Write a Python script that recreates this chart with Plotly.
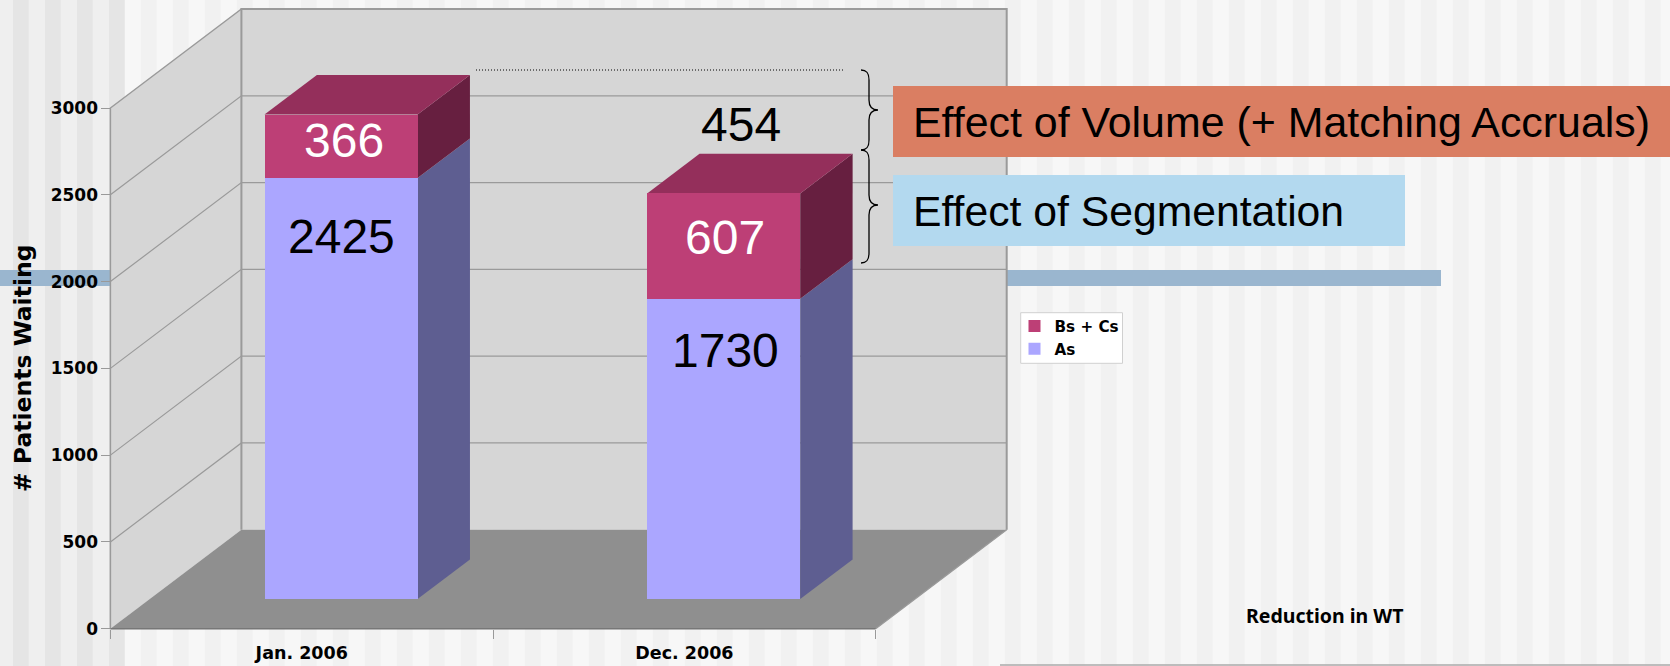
import plotly.graph_objects as go

# ---- data ----
categories = ["Jan. 2006", "Dec. 2006"]
as_values = [2425, 1730]
bc_values = [366, 607]
y_ticks = [0, 500, 1000, 1500, 2000, 2500, 3000]

# ---- canvas and 3-D model ----
W, H = 1670, 666
AX_LEFT, AX_BOTTOM = 110.4, 628.7      # pixel position of the front axis origin
CAT_PX = 382.65                        # pixels per category
VAL_PX = 86.78 / 500                   # pixels per unit of value
DEPTH_X_PX, DEPTH_Y_PX = 131.0, 99.0   # pixels per unit of depth
BAR_WIDTH = 0.4
BAR_D0, BAR_D1 = 0.3, 0.7
Y_TOP = 3000

dx_unit = DEPTH_X_PX / CAT_PX
dy_unit = DEPTH_Y_PX / VAL_PX
x_range = [-AX_LEFT / CAT_PX - 0.5, (W - AX_LEFT) / CAT_PX - 0.5]
y_range = [(AX_BOTTOM - H) / VAL_PX, AX_BOTTOM / VAL_PX]


def proj(c, v, d):
    return c + d * dx_unit, v + d * dy_unit


def px(x, y):
    return x / W, 1 - y / H


def poly(points, fill=None, line=None, lw=0, close=True):
    pts = [proj(*p) for p in points]
    if close:
        pts.append(pts[0])
    return go.Scatter(
        x=[p[0] for p in pts], y=[p[1] for p in pts], xaxis="x", yaxis="y",
        mode="lines", fill="toself" if fill else None, fillcolor=fill,
        line=dict(color=line or "rgba(0,0,0,0)", width=lw),
        hoverinfo="skip", showlegend=False,
    )


L, R = -0.5, 1.5
WALL, FLOOR, EDGE = "#d6d6d6", "#8f8f8f", "#9a9a9a"
traces = [
    poly([(L, 0, 1), (R, 0, 1), (R, Y_TOP, 1), (L, Y_TOP, 1)], fill=WALL),
    poly([(L, 0, 0), (L, 0, 1), (L, Y_TOP, 1), (L, Y_TOP, 0)], fill=WALL),
    poly([(L, 0, 0), (R, 0, 0), (R, 0, 1), (L, 0, 1)], fill=FLOOR),
]
for v in y_ticks[1:-1]:
    traces.append(poly([(L, v, 0), (L, v, 1), (R, v, 1)], line=EDGE, lw=1.2, close=False))
traces += [
    poly([(L, 0, 1), (L, Y_TOP, 1), (R, Y_TOP, 1), (R, 0, 1)], line=EDGE, lw=2, close=False),
    poly([(L, 0, 0), (L, Y_TOP, 0), (L, Y_TOP, 1)], line=EDGE, lw=1.5, close=False),
    poly([(R, 0, 0), (R, 0, 1)], line=EDGE, lw=1.2, close=False),
    poly([(L, 0, 0), (R, 0, 0)], line="#777777", lw=1.5, close=False),
]

AS_SIDE, BC_SIDE, BC_TOP = "#5e5e91", "#671f40", "#942f5b"
for i in range(len(categories)):
    c1 = i - BAR_WIDTH / 2
    c2 = i + BAR_WIDTH / 2
    a = as_values[i]
    t = a + bc_values[i]
    traces += [
        poly([(c2, 0, BAR_D0), (c2, 0, BAR_D1), (c2, a, BAR_D1), (c2, a, BAR_D0)], fill=AS_SIDE),
        poly([(c2, a, BAR_D0), (c2, a, BAR_D1), (c2, t, BAR_D1), (c2, t, BAR_D0)], fill=BC_SIDE),
        poly([(c1, t, BAR_D0), (c2, t, BAR_D0), (c2, t, BAR_D1), (c1, t, BAR_D1)], fill=BC_TOP),
    ]

# invisible carrier of the visible category axis
traces.append(go.Scatter(x=categories, y=[None, None], xaxis="x2", yaxis="y",
                         mode="markers", showlegend=False, hoverinfo="skip"))
# front faces: the true stacked values
traces.append(go.Bar(x=categories, y=as_values, name="As", width=BAR_WIDTH,
                     marker=dict(color="#aba6ff", line=dict(width=0)), xaxis="x3", yaxis="y2"))
traces.append(go.Bar(x=categories, y=bc_values, name="Bs + Cs", width=BAR_WIDTH,
                     marker=dict(color="#bd3f76", line=dict(width=0)), xaxis="x3", yaxis="y2"))

fig = go.Figure(traces)

# ---- background shapes ----
shapes = []
STRIPE = 16
START = 12.9
stripe_x = START - STRIPE
k = -1
while stripe_x < W:
    left_zone = stripe_x < 120
    dark = k % 2 == 0
    col = ("#e5e5e5" if dark else "#efefef") if left_zone else ("#f1f1f1" if dark else "#f7f7f7")
    x0, y0 = px(max(stripe_x, 0), 0)
    x1, y1 = px(min(stripe_x + STRIPE, W), H)
    shapes.append(dict(type="rect", xref="paper", yref="paper", x0=x0, x1=x1, y0=y0, y1=y1,
                       fillcolor=col, line_width=0, layer="below"))
    stripe_x += STRIPE
    k += 1


def rect(x0, y0, x1, y1, color, layer="above", line=None):
    a, b = px(x0, y0)
    c, d = px(x1, y1)
    return dict(type="rect", xref="paper", yref="paper", x0=a, y0=b, x1=c, y1=d, fillcolor=color,
                line=dict(width=1 if line else 0, color=line or "rgba(0,0,0,0)"), layer=layer)


def path(points):
    cmds = []
    for cmd, pts in points:
        cmds.append(cmd + " ".join("%.5f,%.5f" % px(*p) for p in pts))
    return dict(type="path", xref="paper", yref="paper", path=" ".join(cmds),
                line=dict(color="black", width=1.3), fillcolor="rgba(0,0,0,0)")


shapes.append(rect(0, 270, 1441, 286, "#9ab6cf", layer="below"))
shapes.append(rect(893, 86, 1670, 157, "#da7e62"))
shapes.append(rect(893, 175, 1405, 246, "#b3d9ef"))
shapes.append(rect(1020.7, 312.7, 1122.5, 363.3, "#ffffff", line="#d0d0d0"))
lx0, ly = px(476, 70)
lx1, _ = px(843, 70)
shapes.append(dict(type="line", xref="paper", yref="paper", x0=lx0, x1=lx1, y0=ly, y1=ly,
                   line=dict(color="black", width=1, dash="1px,2px")))
lx0, ly = px(1000, 665)
lx1, _ = px(W, 665)
shapes.append(dict(type="line", xref="paper", yref="paper", x0=lx0, x1=lx1, y0=ly, y1=ly,
                   line=dict(color="#aaaaaa", width=1.5)))
shapes.append(path([("M", [(861, 70)]), ("C", [(866, 70), (869, 72), (869, 80)]),
                    ("L", [(869, 100)]), ("C", [(869, 106), (872, 110), (878, 110)]),
                    ("C", [(872, 110), (869, 114), (869, 120)]), ("L", [(869, 140)]),
                    ("C", [(869, 148), (866, 150), (861, 150)])]))
shapes.append(path([("M", [(861, 150)]), ("C", [(866, 150), (869, 152), (869, 160)]),
                    ("L", [(869, 195)]), ("C", [(869, 201), (872, 205), (878, 205)]),
                    ("C", [(872, 205), (869, 209), (869, 215)]), ("L", [(869, 253)]),
                    ("C", [(869, 261), (866, 263), (861, 263)])]))

# ---- text ----
SANS = "Liberation Sans"
BOLD = "DejaVu Sans"


def note_bar(i, value, text, color, yshift, xshift=0):
    return dict(xref="x3", yref="y2", x=categories[i], y=value, text=text, showarrow=False,
                font=dict(family=SANS, size=48, color=color), yanchor="middle",
                yshift=yshift, xshift=xshift)


def note_px(x, y, text, size, family=SANS, xanchor="left", weight=None, angle=0):
    a, b = px(x, y)
    font = dict(family=family, size=size, color="black")
    if weight:
        font["weight"] = weight
    return dict(xref="paper", yref="paper", x=a, y=b, text=text, showarrow=False,
                font=font, xanchor=xanchor, yanchor="middle", textangle=angle)


annotations = [
    note_bar(0, as_values[0], str(as_values[0]), "black", -58),
    note_bar(0, as_values[0] + bc_values[0] / 2, str(bc_values[0]), "white", 6, xshift=3),
    note_bar(1, as_values[1], str(as_values[1]), "black", -52, xshift=2),
    note_bar(1, as_values[1] + bc_values[1] / 2, str(bc_values[1]), "white", 9, xshift=1),
    note_px(741, 125, "454", 48, xanchor="center"),
    note_px(911, 122, "Effect of Volume (+ Matching Accruals)", 42.9),
    note_px(911, 211, "Effect of Segmentation", 42.7),
    note_px(1244, 615, "Reduction in WT", 19.5, family="Noto Sans", weight=700),
    note_px(23, 368, "# Patients Waiting", 23.5, family=BOLD, xanchor="center", weight=700, angle=-90),
]

tickfont = dict(family=BOLD, size=17, color="black", weight=700)
fig.update_layout(
    width=W, height=H, margin=dict(l=0, r=0, t=0, b=0), autosize=False,
    paper_bgcolor="#f7f7f7", plot_bgcolor="rgba(0,0,0,0)",
    barmode="stack", bargap=0,
    shapes=shapes, annotations=annotations,
    showlegend=True,
    legend=dict(x=1014.5 / W, y=1 - 309.5 / H, xanchor="left", yanchor="top",
                bgcolor="rgba(0,0,0,0)", borderwidth=0, traceorder="reversed",
                font=dict(family=BOLD, size=15.2, color="black", weight=700), itemclick=False),
    xaxis=dict(range=x_range, visible=False, fixedrange=True),
    xaxis2=dict(type="category", categoryorder="array", categoryarray=categories,
                range=x_range, overlaying="x", anchor="free", position=(H - AX_BOTTOM) / H,
                tickson="boundaries", ticks="outside", ticklen=9, tickcolor="#999999",
                tickwidth=1, showgrid=False, zeroline=False, showline=False,
                tickfont=dict(tickfont, size=17.5), ticklabelstandoff=12, fixedrange=True),
    xaxis3=dict(type="category", categoryorder="array", categoryarray=categories,
                range=[x_range[0] - BAR_D0 * dx_unit, x_range[1] - BAR_D0 * dx_unit],
                overlaying="x", anchor="y2", visible=False, fixedrange=True),
    yaxis=dict(range=y_range, tickvals=y_ticks, anchor="free", position=AX_LEFT / W,
               ticks="outside", ticklen=9, tickcolor="#999999", tickwidth=1,
               showgrid=False, zeroline=False, showline=False, tickfont=tickfont, fixedrange=True),
    yaxis2=dict(range=[y_range[0] - BAR_D0 * dy_unit, y_range[1] - BAR_D0 * dy_unit],
                overlaying="y", anchor="x3", visible=False, fixedrange=True),
)

fig.write_html(
    "out.html",
    config={"displayModeBar": False},
    post_script="document.body.style.margin='0';document.documentElement.style.overflow='hidden';",
)
